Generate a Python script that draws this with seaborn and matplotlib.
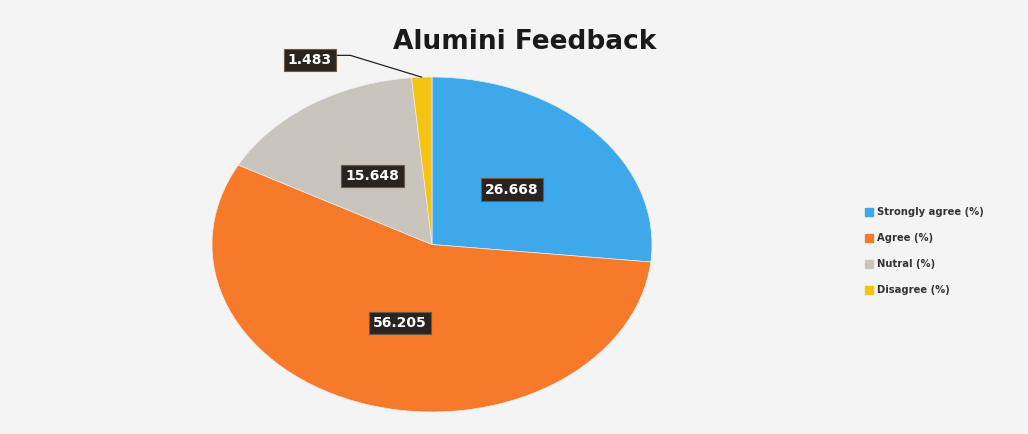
import numpy as np
import matplotlib
matplotlib.use("Agg")
import matplotlib.pyplot as plt
import seaborn as sns
from matplotlib.lines import Line2D

categories = ["Strongly agree (%)", "Agree (%)", "Nutral (%)", "Disagree (%)"]
values = [26.668, 56.205, 15.648, 1.483]
value_labels = ["26.668", "56.205", "15.648", "1.483"]
colors = ["#3DA9EA", "#F7792A", "#C9C4BC", "#F5C312"]

sns.set_theme(style="white")
plt.rcParams["font.family"] = ["DejaVu Sans"]

W, H = 1028, 434
fig = plt.figure(figsize=(W / 100, H / 100), dpi=100, facecolor="#F4F4F4")

# Pie axes (elliptical, as in the photo)
left, right, top, bottom = 212, 652, 77, 412
ax = fig.add_axes([left / W, (H - bottom) / H, (right - left) / W, (bottom - top) / H])
ax.set_facecolor("none")
wedges, _ = ax.pie(values, colors=colors, startangle=90, counterclock=False,
                   wedgeprops=dict(linewidth=0.5, edgecolor="#EDEDED"))
ax.set_aspect("auto")
ax.set_xlim(-1, 1)
ax.set_ylim(-1, 1)
ax.axis("off")

box = dict(boxstyle="square,pad=0.3", facecolor="#2A2420", edgecolor="#6B5A4A", linewidth=0.8)
for w, lab, v in zip(wedges, value_labels, values):
    mid = np.deg2rad((w.theta1 + w.theta2) / 2)
    if v > 5:
        r = 0.49
        ax.text(r * np.cos(mid), r * np.sin(mid), lab, ha="center", va="center",
                color="white", fontsize=10, fontweight="bold", bbox=box)
    else:
        ex, ey = 1.0 * np.cos(mid), 1.0 * np.sin(mid)
        ax.annotate(lab, xy=(ex, ey), xytext=(-0.555, 1.10), ha="center", va="center",
                    color="white", fontsize=10, fontweight="bold", bbox=box,
                    annotation_clip=False,
                    arrowprops=dict(arrowstyle="-", color="#222222", lw=0.9,
                                    relpos=(1.0, 0.85),
                                    connectionstyle="angle,angleA=0,angleB=163,rad=0",
                                    shrinkA=0, shrinkB=0))

fig.text(525 / W, 1 - 42 / H, "Alumini Feedback", ha="center", va="center",
         fontsize=19, fontweight="bold", color="#1A1A1A")

handles = [Line2D([0], [0], marker="s", linestyle="none", markersize=6,
                  markerfacecolor=c, markeredgecolor=c) for c in colors]
leg = fig.legend(handles, categories, loc="upper left",
                 bbox_to_anchor=(860 / W, 1 - 203 / H), frameon=False,
                 fontsize=7.2, labelspacing=1.6, handletextpad=0.3,
                 handlelength=1.0, borderaxespad=0)
for t in leg.get_texts():
    t.set_color("#333333")
    t.set_fontweight("bold")

fig.savefig("out.png", dpi=100, facecolor=fig.get_facecolor())
